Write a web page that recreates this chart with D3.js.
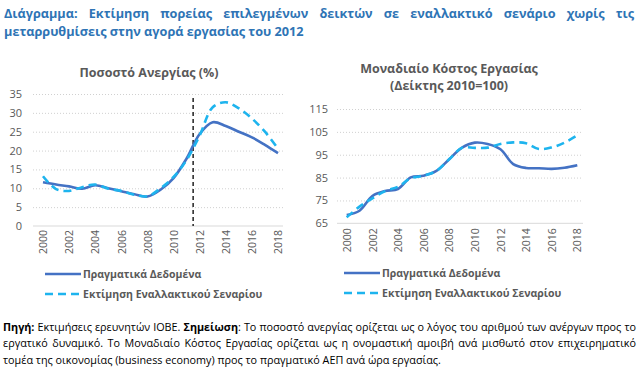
<!DOCTYPE html>
<html><head><meta charset="utf-8">
<script src="https://cdn.jsdelivr.net/npm/d3@7"></script>
<style>body{margin:0;background:#fff} svg{display:block;font-family:"Open Sans",sans-serif}</style>
</head><body>
<svg id="c" width="638" height="368"></svg>
<script>
// ---------- data ----------
const years = [2000,2001,2002,2003,2004,2005,2006,2007,2008,2009,2010,2011,2012,2013,2014,2015,2016,2017,2018];
const xTickYears = [2000,2002,2004,2006,2008,2010,2012,2014,2016,2018];
const unempActual = [11.6,11.0,10.5,9.9,10.8,10.0,9.2,8.4,7.8,9.6,12.7,17.9,24.4,27.5,26.5,25.0,23.5,21.5,19.3];
const unempAlt    = [13.2,9.8,9.3,10.3,11.0,9.9,9.3,8.3,7.9,10.0,13.0,17.5,24.0,31.5,32.8,31.2,28.5,25.0,20.5];
const ulcActual   = [68.6,70.5,76.9,79.1,80.0,85.1,85.8,87.9,93.0,98.1,100.3,99.7,97.4,90.9,89.2,89.1,88.8,89.3,90.4];
const ulcAlt      = [67.6,72.3,75.9,79.1,81.0,84.7,85.8,87.9,93.0,98.0,98.0,98.1,99.7,100.4,100.0,97.5,98.2,100.3,103.5];
const unempTicks = [0,5,10,15,20,25,30,35];
const ulcTicks = [65,75,85,95,105,115];
const reformYear = 2011.5;
const seriesNames = ["Πραγματικά Δεδομένα","Εκτίμηση Εναλλακτικού Σεναρίου"];
const titleLines = ["Διάγραμμα: Εκτίμηση πορείας επιλεγμένων δεικτών σε εναλλακτικό σενάριο χωρίς τις",
                    "μεταρρυθμίσεις στην αγορά εργασίας του 2012"];
const noteLines = [
  [["Πηγή:",true],[" Εκτιμήσεις ερευνητών ΙΟΒΕ. ",false],["Σημείωση",true],[": Το ποσοστό ανεργίας ορίζεται ως ο λόγος του αριθμού των ανέργων προς το",false]],
  [["εργατικό δυναμικό. Το Μοναδιαίο Κόστος Εργασίας ορίζεται ως η ονομαστική αμοιβή ανά μισθωτό στον επιχειρηματικό",false]],
  [["τομέα της οικονομίας (business economy) προς το πραγματικό ΑΕΠ ανά ώρα εργασίας.",false]]
];

// ---------- style ----------
const cSolid = "#4472C4", cDash = "#1EB4EE", cText = "#595959", cGrid = "#d0d0d0";
const svg = d3.select("#c");

function textLine(parts, x, y, size, color, target, weightDefault) {
  const t = svg.append("text").attr("x", x).attr("y", y).attr("font-size", size).attr("fill", color)
    .attr("xml:space","preserve");
  parts.forEach(p => t.append("tspan").text(p[0]).attr("font-weight", p[1] ? "bold" : (weightDefault||"normal")));
  if (target) {
    const w = t.node().getComputedTextLength();
    const full = parts.map(p=>p[0]).join("");
    const n = (full.match(/ /g)||[]).length;
    t.style("word-spacing", ((target - w)/n) + "px");
  }
  return t;
}
function measure(parts, size, weightDefault) {
  const t = textLine(parts, 0, -100, size, "#000", null, weightDefault);
  const w = t.node().getComputedTextLength(); t.remove(); return w;
}

// ---------- main title ----------
{
  const fs = 13 * 300 / measure([[titleLines[1],true]], 13);
  textLine([[titleLines[0],true]], 4, 18, fs, "#2E74B5", 630);
  textLine([[titleLines[1],true]], 4, 36, fs, "#2E74B5", null);
}

// ---------- chart factory ----------
function chart(o) {
  const x = d3.scaleLinear().domain([2000,2018]).range([o.x0, o.x1]);
  const y = d3.scaleLinear().domain(o.domain).range([o.yb, o.yt]);
  const g = svg.append("g");
  // grid + y labels
  const ya = g.append("g").attr("transform", `translate(${o.gl},0)`)
    .call(d3.axisLeft(y).tickValues(o.ticks).tickSize(-(o.gr - o.gl)).tickPadding(o.pad));
  ya.select(".domain").remove();
  ya.selectAll(".tick line").attr("stroke", cGrid).attr("stroke-dasharray","1,2")
    .attr("opacity", d => d === o.domain[0] ? 0 : 1);
  ya.selectAll(".tick text").attr("fill", cText).attr("font-size", 11).attr("font-family","Open Sans");
  // x axis
  const xa = g.append("g").attr("transform", `translate(0,${o.yb})`)
    .call(d3.axisBottom(x).tickValues(xTickYears).tickSize(0).tickFormat(d3.format("d")));
  xa.select(".domain").remove();
  xa.selectAll(".tick text").attr("fill", cText).attr("font-size", 10.5).attr("font-family","Open Sans")
    .attr("transform","rotate(-90)").attr("x", -o.xpad).attr("y", 0).attr("dy","0.35em").style("text-anchor","end");
  g.append("line").attr("x1", o.gl).attr("x2", o.gr).attr("y1", o.yb).attr("y2", o.yb)
    .attr("stroke", "#d9d9d9").attr("stroke-width", 1);
  if (o.vline) {
    g.append("line").attr("x1", x(o.vline)).attr("x2", x(o.vline)).attr("y1", o.yt + 4).attr("y2", o.yb)
      .attr("stroke", "#222").attr("stroke-width", 1.5).attr("stroke-dasharray", "4,3");
  }
  const line = d3.line().x((d,i)=>x(years[i])).y(d=>y(d)).curve(d3.curveCatmullRom.alpha(0.5));
  g.append("path").attr("d", line(o.actual)).attr("fill","none").attr("stroke", cSolid).attr("stroke-width", 2.6);
  g.append("path").attr("d", line(o.alt)).attr("fill","none").attr("stroke", cDash).attr("stroke-width", 2.6)
    .attr("stroke-dasharray","8,5");
  // titles
  o.title.forEach((t,i) => g.append("text").attr("x", o.tx).attr("y", o.ty + i*17).attr("text-anchor","middle")
    .attr("font-size", 12.5).attr("font-weight","bold").attr("fill", cText).text(t));
  // legend
  [[cSolid,null],[cDash,"8,5"]].forEach((s,i) => {
    const ly = o.ly + i*20;
    g.append("line").attr("x1", o.lx).attr("x2", o.lx + 36).attr("y1", ly).attr("y2", ly)
      .attr("stroke", s[0]).attr("stroke-width", 2.6).attr("stroke-dasharray", s[1]);
    g.append("text").attr("x", o.lx + 38).attr("y", ly).attr("dy","0.35em").attr("font-size", 10.5)
      .attr("font-weight","bold").attr("fill", cText).text(seriesNames[i]);
  });
}

chart({x0:43, x1:278, gl:33, gr:283, yb:226, yt:94, domain:[0,35], ticks:unempTicks, pad:11, xpad:4,
  actual:unempActual, alt:unempAlt, vline:reformYear, title:["Ποσοστό Ανεργίας (%)"], tx:149, ty:77, lx:45, ly:274});
chart({x0:346.7, x1:577.3, gl:337, gr:583, yb:223.3, yt:109, domain:[65,115], ticks:ulcTicks, pad:9, xpad:5,
  actual:ulcActual, alt:ulcAlt, vline:null, title:["Μοναδιαίο Κόστος Εργασίας","(Δείκτης 2010=100)"], tx:449, ty:73, lx:344, ly:273});

// ---------- note ----------
{
  const fs = 11 * 438 / measure(noteLines[2], 11);
  textLine(noteLines[0], 3, 331, fs, "#000", 633);
  textLine(noteLines[1], 3, 347, fs, "#000", 633);
  textLine(noteLines[2], 3, 364, fs, "#000", null);
}
</script>
</body></html>
